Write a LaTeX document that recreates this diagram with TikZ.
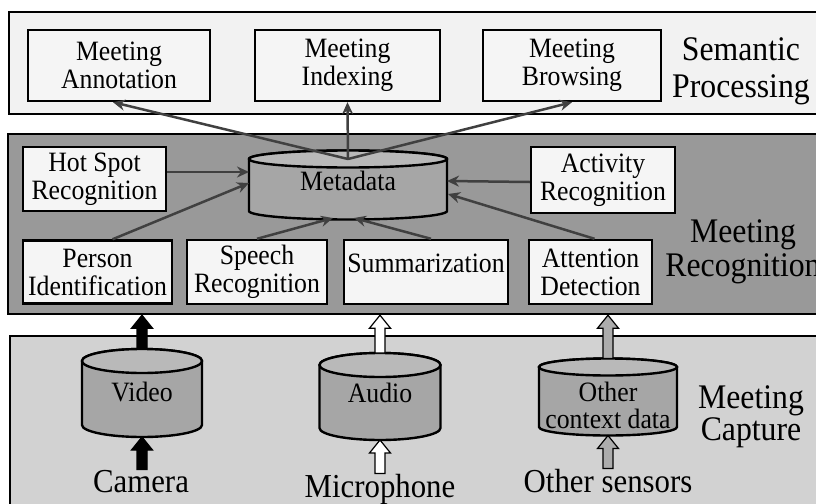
\documentclass[tikz,border=0pt]{standalone}
\usepackage{fontspec}
\setmainfont{Liberation Serif}[FakeStretch=0.92]
\usetikzlibrary{arrows.meta,calc}

\begin{document}
\begin{tikzpicture}[x=1pt, y=-1pt,
		band/.style={draw, line width=2.4pt, inner sep=0pt},
		box/.style={draw, line width=2.4pt, fill=gray!8, align=center, inner sep=0pt,
			font=\fontsize{28}{28}\selectfont},
		storetext/.style={align=center, inner sep=0pt, font=\fontsize{28}{27}\selectfont},
		layer/.style={align=center, inner sep=0pt},
		source/.style={anchor=base, inner sep=0pt, font=\fontsize{33.5}{37}\selectfont},
		flow/.style={draw=black!75, line width=2.5pt, -{Stealth[length=12pt,width=11pt]}},
		blockarrow/.style={fill=#1, draw=black, line width=1.2pt,
			to path={let \p1=(\tikztostart), \p2=(\tikztotarget) in
				(\x1-5pt,\y1) -- (\x1-5pt,\y2-13pt) -- (\x1-10.5pt,\y2-13pt) -- (\x1,\y2)
				-- (\x1+10.5pt,\y2-13pt) -- (\x1+5pt,\y2-13pt) -- (\x1+5pt,\y1) -- cycle}},
		% store: x radius, half distance between the two ends, y radius of the ends
		pics/store/.style n args={3}{code={
			\draw[line width=2.4pt, fill=gray!70] (-#1,-#2) -- (-#1,#2)
				arc[start angle=180, end angle=0, x radius=#1, y radius=#3]
				-- (#1,-#2) arc[start angle=0, end angle=-180, x radius=#1, y radius=#3] -- cycle;
			\draw[line width=2.4pt, fill=gray!55] (0,-#2) ellipse[x radius=#1, y radius=#3];
			\coordinate (-center) at (0,0);
			\coordinate (-end) at (0,-#2);
			\coordinate (-top) at (0,-#2-#3);
			\coordinate (-bottom) at (0,#2+#3);
		}},
	]
		\useasboundingbox (0,0) rectangle (816,503);
		
		% the three layers
		\node[band, fill=gray!10, minimum width=831pt, minimum height=102pt] (semband) at (424.5,63) {};
		\node[band, fill=gray!80, minimum width=832pt, minimum height=180pt] (recband) at (424,224) {};
		\node[band, fill=gray!35, minimum width=830pt, minimum height=184pt] (capband) at (425,428) {};
		
		\node[layer, font=\fontsize{34.5}{37}\selectfont] (semlabel) at (741,71) {Semantic\\Processing};
		\node[layer, font=\fontsize{34.5}{34}\selectfont] (reclabel) at (743,252) {Meeting\\Recognition};
		\node[layer, font=\fontsize{34.5}{32}\selectfont] (caplabel) at (751,417) {Meeting\\Capture};
		
		\node[box, minimum width=182pt, minimum height=71pt] (annot) at (119,65.5) {Meeting\\Annotation};
		\node[box, minimum width=185pt, minimum height=71pt] (index) at (347.5,65.5) {Meeting\\Indexing};
		\node[box, minimum width=178pt, minimum height=71pt] (browse) at (572,65.5) {Meeting\\Browsing};
		
		\pic (meta) at (348,185) {store={99}{26}{8.5}};
		\node[storetext] (metatext) at (348,181) {Metadata};
		\node[box, minimum width=143pt, minimum height=64pt] (hotspot) at (94.5,179) {Hot Spot\\Recognition};
		\node[box, minimum width=144pt, minimum height=66pt] (activity) at (603,180) {Activity\\Recognition};
		\node[box, minimum width=149pt, minimum height=63pt] (person) at (97.5,272) {Person\\Identification};
		\node[box, minimum width=140pt, minimum height=64pt] (speech) at (257,272) {Speech\\Recognition};
		\node[box, minimum width=164pt, minimum height=64pt, text depth=18pt] (summ) at (426,272) {Summarization};
		\node[box, minimum width=123pt, minimum height=64pt] (attention) at (590.5,272) {Attention\\Detection};
		
		\pic (video) at (142,393) {store={60}{32}{12}};
		\node[storetext] (videotext) at (142,392) {Video};
		\pic (audio) at (380,396.5) {store={60.5}{31.5}{12}};
		\node[storetext] (audiotext) at (380,393) {Audio};
		\pic (other) at (608,397) {store={69}{30}{8.5}};
		\node[storetext] (othertext) at (608,405) {Other\\context data};
		
		\node[source] (camera) at (141,492) {Camera};
		\node[source] (mic) at (380,497) {Microphone};
		\node[source] (sensors) at (608,492) {Other sensors};
		
		% sources into the stores, stores up to recognition
		\draw[blockarrow=black] (camera.north -| video-bottom) to (video-bottom);
		\draw[blockarrow=white] (mic.north -| audio-bottom) to (audio-bottom);
		\draw[blockarrow=gray!65] (sensors.north -| other-bottom) to (other-bottom);
		\draw[blockarrow=black] (video-top) to (video-top |- recband.south);
		\draw[blockarrow=white] (audio-top) to (audio-top |- recband.south);
		\draw[blockarrow=gray!65] (other-top) to (other-top |- recband.south);
		
		% recognition results into the metadata
		\draw[flow] ([yshift=7pt]hotspot.east) -- ($(meta-center)+(-99,-13)$);
		\draw[flow] ([xshift=15pt]person.north) -- ($(meta-center)+(-99,-2)$);
		\draw[flow] (speech.north) -- ($(meta-center)+(-15,33)$);
		\draw[flow] ([xshift=5pt]summ.north) -- ($(meta-center)+(6,33)$);
		\draw[flow] ([yshift=-2pt]activity.west) -- ($(meta-center)+(99,-4)$);
		\draw[flow] ([xshift=4pt]attention.north) -- ($(meta-center)+(100,9)$);
		
		% metadata up to semantic processing
		\draw[flow] (meta-end) -- ([xshift=-6pt]annot.south);
		\draw[flow] (meta-end) -- (index.south);
		\draw[flow] (meta-end) -- (browse.south);
	\end{tikzpicture}
\end{document}
